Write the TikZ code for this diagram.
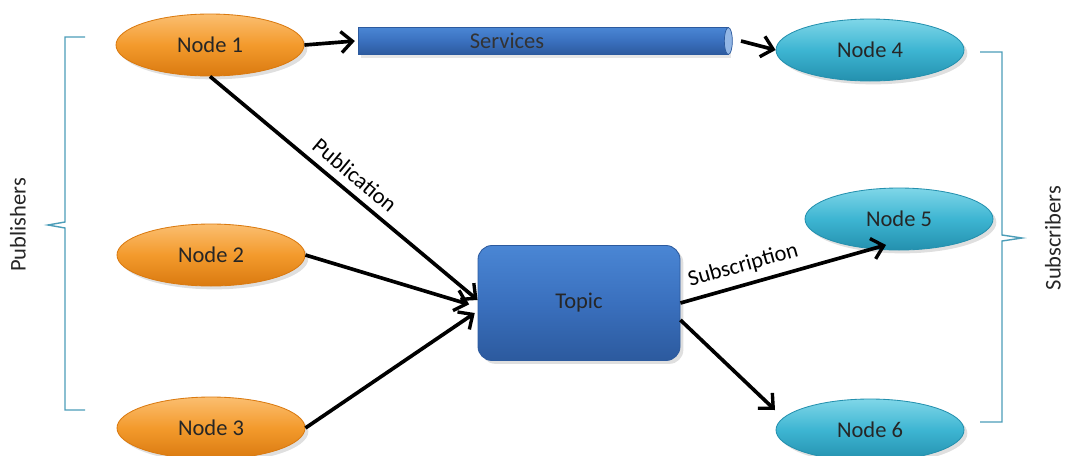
\documentclass[tikz,border=0pt]{standalone}
\usepackage{fontspec}
\setmainfont{Carlito}
\usetikzlibrary{arrows.meta,shapes.geometric,shadows}
\definecolor{orA}{HTML}{FBBE70}
\definecolor{orB}{HTML}{F39A2C}
\definecolor{orC}{HTML}{DA7A10}
\definecolor{cyA}{HTML}{7FD6E8}
\definecolor{cyB}{HTML}{3DB5D2}
\definecolor{cyC}{HTML}{2490AE}
\definecolor{blA}{HTML}{4A86D4}
\definecolor{blB}{HTML}{3A70BE}
\definecolor{blC}{HTML}{2C5A9E}
\definecolor{brk}{HTML}{4C9DB8}
\begin{document}
\begin{tikzpicture}[x=0.025cm,y=-0.025cm,
  txt/.style={font=\fontsize{16}{18}\selectfont, text=black!85},
  pubnode/.style={ellipse, minimum width=188*0.025cm, minimum height=62*0.025cm, draw=orC, line width=0.6pt,
     top color=orA, bottom color=orC, middle color=orB, txt, drop shadow={opacity=0.25}},
  subnode/.style={ellipse, minimum width=188*0.025cm, minimum height=62*0.025cm, draw=cyC, line width=0.6pt,
     top color=cyA, bottom color=cyC, middle color=cyB, txt, drop shadow={opacity=0.25}},
  arr/.style={-{Straight Barb[length=8pt,width=15pt,line width=2.4pt]}, line width=2.6pt, black},
  brace/.style={draw=brk, line width=1pt}
]
\useasboundingbox (0,0) rectangle (1066,455);

\node[pubnode] (n1) at (210,45) {Node 1};
\node[pubnode] (n2) at (211,255) {Node 2};
\node[pubnode] (n3) at (211,428) {Node 3};
\node[subnode] (n4) at (870,50) {Node 4};
\node[subnode] (n5) at (899,219) {Node 5};
\node[subnode] (n6) at (870,430) {Node 6};

% Services tube
\node[rectangle, minimum width=370*0.025cm, minimum height=27*0.025cm, inner sep=0pt,
  draw=blC, line width=0.5pt, top color=blA, bottom color=blC, middle color=blB,
  drop shadow={opacity=0.2}] (srv) at (543,41) {};
\draw[draw=blC, line width=0.5pt, fill=blA!60] (srv.east) ellipse [x radius=4, y radius=13.5];
\node[txt, text=black!80] (srvt) at (507,41) {Services};

% Topic
\node[rectangle, rounded corners=10pt, minimum width=202*0.025cm, minimum height=115*0.025cm,
  draw=blC, line width=0.6pt, top color=blA, bottom color=blC, middle color=blB, txt,
  drop shadow={opacity=0.25}] (topic) at (579,303) {Topic};

% arrows
\draw[arr] (n1.east) -- ([xshift=-2pt]srv.west);
\draw[arr] ([xshift=9pt]srv.east) -- (n4.west);
\draw[arr] (n1.south) -- (topic.west |- 0,300)
  node[pos=0.5, sloped, above=2pt, txt, text=black] {Publication};
\draw[arr] (n2.east) -- ([xshift=-6pt,yshift=-1pt]topic.west);
\draw[arr] (n3.east) -- ([xshift=-2pt]topic.west |- 0,313);
\draw[arr] (topic.east |- 0,303) -- (886,245)
  node[pos=0.33, sloped, above=2pt, txt, text=black] {Subscription};
\draw[arr] (topic.east |- 0,320) -- (775,410);

% braces
\draw[brace] (85,37) -- (65,37) -- (65,222) -- (48,225) -- (65,228) -- (65,410) -- (85,410);
\node[txt, rotate=90] (pub) at (18,225) {Publishers};
\draw[brace] (980,52) -- (1002,52) -- (1002,235) -- (1022,238) -- (1002,241) -- (1002,422) -- (980,422);
\node[txt, rotate=90] (sub) at (1053,238) {Subscribers};
\end{tikzpicture}
\end{document}
